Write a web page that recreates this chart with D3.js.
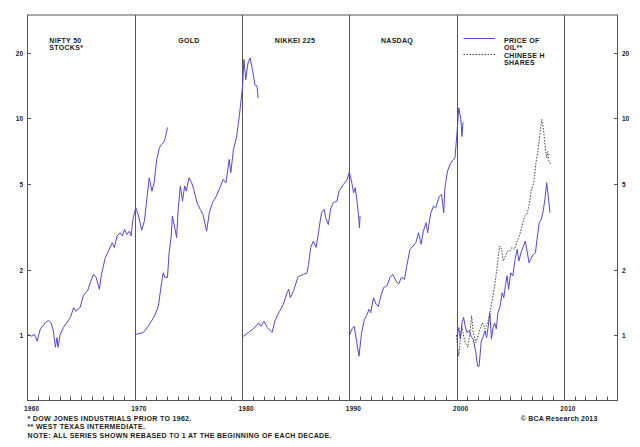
<!DOCTYPE html>
<html>
<head>
<meta charset="utf-8">
<script src="https://cdn.jsdelivr.net/npm/d3@7"></script>
<style>
  body { margin: 0; background: #fff; }
  #chart text { font-family: "Liberation Sans", Arial, sans-serif; font-weight: bold; fill: #1a1a1a; }
</style>
</head>
<body>
<div id="chart"></div>
<script>
// Axis labels
const decades = [1960, 1970, 1980, 1990, 2000, 2010];
const yTicks = [1, 2, 5, 10, 20];

// Series, [year, value], each rebased to 1 at the start of its decade
const niftyFifty = [
    [1960.0, 1.01], [1960.4, 0.99], [1960.65, 1.01], [1960.9, 0.94], [1961.2, 1.07],
    [1961.65, 1.14], [1961.95, 1.17], [1962.2, 1.14], [1962.4, 1.05], [1962.6, 0.88],
    [1962.75, 0.975], [1962.85, 0.88], [1963.05, 1.01], [1963.35, 1.085], [1963.65, 1.14],
    [1964.0, 1.21], [1964.3, 1.34], [1964.5, 1.29], [1964.9, 1.34], [1965.2, 1.52],
    [1965.4, 1.57], [1965.6, 1.60], [1965.85, 1.75], [1966.15, 1.91], [1966.4, 1.85],
    [1966.7, 1.63], [1966.9, 1.91], [1967.25, 2.28], [1967.55, 2.45], [1967.9, 2.67],
    [1968.1, 2.54], [1968.35, 2.87], [1968.65, 2.97], [1968.85, 2.87], [1969.05, 3.08],
    [1969.25, 2.92], [1969.5, 3.02], [1969.65, 2.87], [1969.85, 3.48], [1970.1, 3.87],
    [1970.35, 3.55], [1970.65, 3.05], [1970.9, 3.37], [1971.1, 4.15], [1971.35, 5.32],
    [1971.6, 4.62], [1971.8, 5.05], [1972.05, 6.47], [1972.3, 7.33], [1972.5, 7.6],
    [1972.7, 7.75], [1972.85, 8.16], [1973.05, 9.08]
];

const gold = [
    [1970.0, 1.0], [1970.15, 1.01], [1970.8, 1.03], [1971.25, 1.10], [1971.55, 1.16],
    [1971.85, 1.23], [1972.2, 1.36], [1972.5, 1.75], [1972.65, 1.94], [1972.8, 1.85],
    [1973.05, 1.85], [1973.2, 2.40], [1973.4, 2.87], [1973.5, 3.55], [1973.7, 3.19],
    [1973.9, 2.82], [1974.05, 3.81], [1974.25, 4.88], [1974.45, 4.15], [1974.65, 4.88],
    [1974.8, 4.62], [1975.05, 5.32], [1975.3, 5.05], [1975.5, 4.71], [1975.8, 4.09],
    [1976.1, 3.81], [1976.35, 3.61], [1976.7, 3.02], [1976.95, 3.67], [1977.25, 4.09],
    [1977.6, 4.38], [1978.0, 4.88], [1978.25, 5.23], [1978.5, 5.05], [1978.8, 6.47],
    [1978.95, 5.62], [1979.2, 7.2], [1979.5, 8.25], [1979.75, 10.3], [1979.85, 11.4],
    [1980.05, 14.1], [1980.17, 18.7], [1980.35, 15.1], [1980.55, 18.0], [1980.75, 19.0],
    [1981.0, 16.5], [1981.2, 14.3], [1981.4, 14.1], [1981.5, 12.4]
];

const nikkei = [
    [1980.0, 1.0], [1980.15, 0.99], [1980.6, 1.03], [1981.05, 1.07], [1981.55, 1.14],
    [1981.75, 1.10], [1982.05, 1.16], [1982.35, 1.085], [1982.8, 1.03], [1983.1, 1.18],
    [1983.5, 1.29], [1983.85, 1.39], [1984.2, 1.57], [1984.35, 1.63], [1984.5, 1.49],
    [1984.8, 1.60], [1985.2, 1.85], [1985.4, 1.88], [1985.75, 1.91], [1986.05, 1.94],
    [1986.2, 2.12], [1986.4, 2.54], [1986.65, 2.72], [1986.9, 2.54], [1987.1, 2.92],
    [1987.4, 3.67], [1987.65, 3.81], [1987.8, 3.48], [1988.05, 3.24], [1988.25, 3.81],
    [1988.5, 4.09], [1988.85, 4.15], [1989.05, 4.62], [1989.45, 4.96], [1989.7, 5.14],
    [1989.8, 5.23], [1990.0, 5.66], [1990.2, 5.14], [1990.4, 4.54], [1990.55, 4.79],
    [1990.7, 4.23], [1990.85, 3.61], [1990.95, 3.13], [1991.0, 3.55]
];

const nasdaq = [
    [1990.0, 1.0], [1990.05, 1.01], [1990.25, 1.07], [1990.45, 1.10], [1990.65, 0.96],
    [1990.9, 0.80], [1991.15, 1.03], [1991.4, 1.18], [1991.6, 1.23], [1991.85, 1.32],
    [1992.0, 1.27], [1992.25, 1.49], [1992.5, 1.39], [1992.7, 1.36], [1992.95, 1.52],
    [1993.2, 1.66], [1993.5, 1.69], [1993.8, 1.85], [1994.05, 1.91], [1994.35, 1.78],
    [1994.6, 1.72], [1994.85, 1.85], [1995.15, 1.81], [1995.35, 2.08], [1995.65, 2.49],
    [1995.95, 2.58], [1996.2, 2.67], [1996.45, 2.97], [1996.7, 2.63], [1996.9, 3.02],
    [1997.15, 3.30], [1997.3, 2.97], [1997.6, 3.67], [1997.85, 3.94], [1998.05, 3.87],
    [1998.4, 4.38], [1998.6, 4.46], [1998.8, 3.67], [1998.9, 4.71], [1999.15, 5.71],
    [1999.4, 6.15], [1999.6, 6.37], [1999.85, 6.57], [2000.05, 8.72], [2000.2, 11.2],
    [2000.4, 9.89], [2000.5, 8.25], [2000.6, 9.6]
];

const oil = [
    [2000.0, 1.0], [2000.05, 0.99], [2000.2, 1.085], [2000.35, 0.96], [2000.5, 1.14],
    [2000.65, 1.21], [2000.8, 1.10], [2000.95, 1.03], [2001.2, 1.05], [2001.35, 0.99],
    [2001.55, 0.96], [2001.8, 0.83], [2001.95, 0.72], [2002.1, 0.72], [2002.3, 0.94],
    [2002.5, 0.99], [2002.65, 1.05], [2002.8, 0.975], [2002.95, 1.10], [2003.1, 1.27],
    [2003.25, 0.96], [2003.4, 1.085], [2003.55, 1.14], [2003.7, 1.07], [2003.85, 1.27],
    [2004.05, 1.36], [2004.25, 1.57], [2004.4, 1.49], [2004.55, 1.69], [2004.7, 1.88],
    [2004.85, 1.63], [2005.05, 1.94], [2005.25, 1.88], [2005.45, 2.24], [2005.65, 2.49],
    [2005.8, 2.20], [2006.0, 2.40], [2006.3, 2.63], [2006.4, 2.72], [2006.6, 2.40],
    [2006.75, 2.16], [2006.9, 2.24], [2007.15, 2.36], [2007.35, 2.40], [2007.5, 2.77],
    [2007.7, 3.30], [2007.9, 3.42], [2008.1, 3.81], [2008.25, 4.30], [2008.4, 5.05],
    [2008.55, 4.38], [2008.7, 3.67]
];

const chineseH = [
    [2000.0, 1.0], [2000.05, 0.925], [2000.2, 0.80], [2000.35, 0.96], [2000.5, 1.10],
    [2000.65, 0.99], [2000.8, 0.925], [2001.05, 0.88], [2001.25, 1.03], [2001.4, 1.23],
    [2001.55, 1.03], [2001.8, 0.925], [2001.95, 0.975], [2002.2, 1.07], [2002.4, 1.14],
    [2002.65, 1.07], [2002.9, 1.14], [2003.1, 1.27], [2003.35, 1.47], [2003.55, 1.69],
    [2003.75, 2.01], [2004.0, 2.58], [2004.2, 2.49], [2004.35, 2.20], [2004.55, 2.32],
    [2004.75, 2.45], [2005.0, 2.45], [2005.15, 2.54], [2005.4, 2.49], [2005.6, 2.67],
    [2005.85, 2.87], [2006.1, 3.19], [2006.35, 3.55], [2006.55, 3.61], [2006.75, 3.94],
    [2006.95, 4.62], [2007.2, 5.05], [2007.4, 6.26], [2007.6, 7.20], [2007.85, 9.21],
    [2007.95, 9.89], [2008.1, 8.90], [2008.25, 7.46], [2008.4, 6.57], [2008.5, 7.03],
    [2008.6, 6.37], [2008.75, 6.15]
];

function createChart() {
    const W = 640, H = 447;
    const left = 27.5, right = 617.5, top = 15, bottom = 400.5;

    const svg = d3.select("#chart")
        .append("svg")
        .attr("width", W)
        .attr("height", H);

    // Scales
    const x = d3.scaleLinear()
        .domain([1960, 2015])
        .range([left, right]);

    const y = d3.scaleLog()
        .domain([0.5, 30])
        .range([bottom, top]);

    const frame = "#555";

    // Frame
    svg.append("rect")
        .attr("x", left)
        .attr("y", top)
        .attr("width", right - left)
        .attr("height", bottom - top)
        .attr("fill", "none")
        .attr("stroke", frame)
        .attr("stroke-width", 1);

    // Decade separators
    svg.append("g")
        .selectAll("line")
        .data(decades.slice(1))
        .join("line")
        .attr("x1", d => Math.round(x(d)) + 0.5)
        .attr("x2", d => Math.round(x(d)) + 0.5)
        .attr("y1", top)
        .attr("y2", bottom)
        .attr("stroke", frame)
        .attr("stroke-width", 1);

    // Yearly minor ticks along the bottom
    svg.append("g")
        .selectAll("line")
        .data(d3.range(1961, 2015).filter(yr => yr % 10 !== 0))
        .join("line")
        .attr("x1", d => Math.round(x(d)) + 0.5)
        .attr("x2", d => Math.round(x(d)) + 0.5)
        .attr("y1", bottom)
        .attr("y2", bottom - 4)
        .attr("stroke", frame)
        .attr("stroke-width", 1);

    // Decade labels
    svg.append("g")
        .selectAll("text")
        .data(decades)
        .join("text")
        .attr("x", d => x(d) - 3.5)
        .attr("y", 411)
        .style("font-size", "6.5px")
        .style("letter-spacing", "0.2px")
        .text(d => d);

    // Y ticks, both sides, pointing inward
    const yAxisL = svg.append("g");
    const yAxisR = svg.append("g");
    yTicks.forEach(t => {
        const ty = Math.round(y(t)) + 0.5;
        yAxisL.append("line")
            .attr("x1", left).attr("x2", left + 3.5)
            .attr("y1", ty).attr("y2", ty)
            .attr("stroke", frame);
        yAxisL.append("text")
            .attr("x", 23)
            .attr("y", ty + 2.3)
            .attr("text-anchor", "end")
            .style("font-size", "6.5px")
            .text(t);
        yAxisR.append("line")
            .attr("x1", right - 3.5).attr("x2", right)
            .attr("y1", ty).attr("y2", ty)
            .attr("stroke", frame);
        yAxisR.append("text")
            .attr("x", 622)
            .attr("y", ty + 2.3)
            .style("font-size", "6.5px")
            .text(t);
    });

    // Series
    const line = d3.line()
        .x(d => x(d[0]))
        .y(d => y(d[1]));

    const blue = "#5249d4";
    [niftyFifty, gold, nikkei, nasdaq, oil].forEach(s => {
        svg.append("path")
            .datum(s)
            .attr("fill", "none")
            .attr("stroke", blue)
            .attr("stroke-width", 1)
            .attr("stroke-linejoin", "round")
            .attr("d", line);
    });

    svg.append("path")
        .datum(chineseH)
        .attr("fill", "none")
        .attr("stroke", "#444")
        .attr("stroke-width", 1)
        .attr("stroke-dasharray", "1.5,1.5")
        .attr("d", line);

    // Panel titles
    const titles = [
        { x: 49.3, y: 42.7, anchor: "start", lines: ["NIFTY 50", "STOCKS*"] },
        { x: 189, y: 42.7, anchor: "middle", lines: ["GOLD"] },
        { x: 295, y: 42.7, anchor: "middle", lines: ["NIKKEI 225"] },
        { x: 397, y: 42.7, anchor: "middle", lines: ["NASDAQ"] },
        { x: 504, y: 42.7, anchor: "start", lines: ["PRICE OF", "OIL**"] },
        { x: 504, y: 58.3, anchor: "start", lines: ["CHINESE H", "SHARES"] }
    ];
    titles.forEach(t => {
        const txt = svg.append("text")
            .attr("x", t.x)
            .attr("y", t.y)
            .attr("text-anchor", t.anchor)
            .style("font-size", "7px")
            .style("letter-spacing", "0.3px");
        t.lines.forEach((l, i) => {
            txt.append("tspan")
                .attr("x", t.x)
                .attr("dy", i === 0 ? 0 : 7)
                .text(l);
        });
    });

    // Legend swatches
    svg.append("line")
        .attr("x1", 463.5).attr("x2", 495)
        .attr("y1", 38.5).attr("y2", 38.5)
        .attr("stroke", blue).attr("stroke-width", 1);
    svg.append("line")
        .attr("x1", 463.5).attr("x2", 495)
        .attr("y1", 54.5).attr("y2", 54.5)
        .attr("stroke", "#444").attr("stroke-width", 1)
        .attr("stroke-dasharray", "1.5,1.5");

    // Footnotes
    const notes = [
        { y: 421, text: "* DOW JONES INDUSTRIALS PRIOR TO 1962." },
        { y: 428.5, text: "** WEST TEXAS INTERMEDIATE." },
        { y: 437.5, text: "NOTE: ALL SERIES SHOWN REBASED TO 1 AT THE BEGINNING OF EACH DECADE." }
    ];
    notes.forEach(n => {
        svg.append("text")
            .attr("x", 27.5)
            .attr("y", n.y)
            .style("font-size", "7px")
            .style("letter-spacing", "0.33px")
            .text(n.text);
    });

    svg.append("text")
        .attr("x", 597.5)
        .attr("y", 421)
        .attr("text-anchor", "end")
        .style("font-size", "7px")
        .style("letter-spacing", "0.2px")
        .text("\u00A9 BCA Research 2013");
}

if (document.readyState === 'loading') {
    document.addEventListener('DOMContentLoaded', createChart);
} else {
    createChart();
}
</script>
</body>
</html>
